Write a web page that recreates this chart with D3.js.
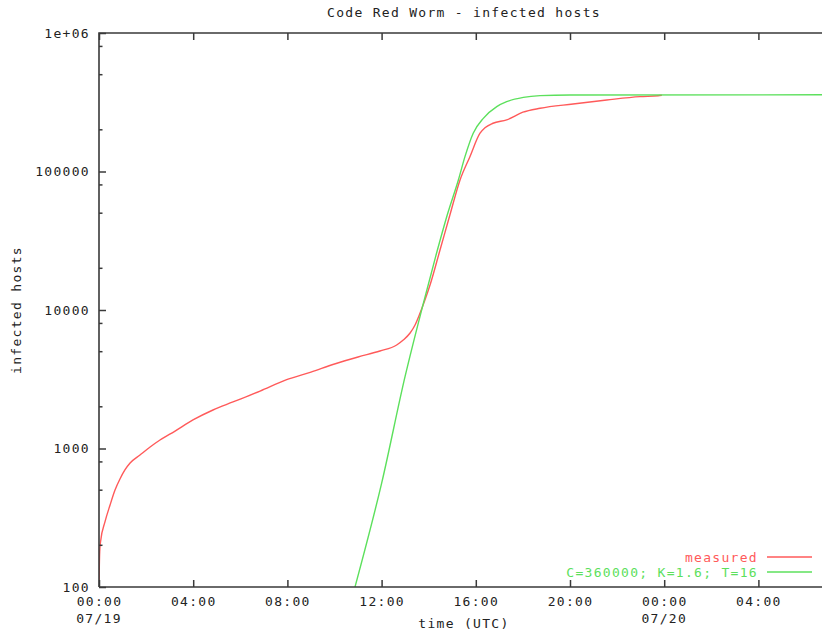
<!DOCTYPE html>
<html><head><meta charset="utf-8">
<script src="https://cdn.jsdelivr.net/npm/d3@7"></script>
<style>
body{margin:0;background:#fff}
text{font-family:"DejaVu Sans Mono",monospace;font-size:13px;letter-spacing:1.3px;fill:#222}
</style></head>
<body><svg id="c" width="822" height="632"></svg>
<script>
// ---- data (hours since 00:00 07/19 UTC, infected hosts) ----
const measuredHours = [0.00,0.01,0.03,0.07,0.25,0.47,0.68,0.89,1.10,1.32,1.74,2.17,2.59,3.23,3.99,4.84,5.69,6.84,7.94,9.0,10.0,11.0,11.93,12.64,12.92,13.21,13.42,13.63,13.84,14.06,14.48,14.9,15.33,15.75,16.18,16.39,16.73,17.31,18.0,18.73,20.13,21.56,22.97,23.74,23.9];
const measuredHosts = [100,130,180,215,294,391,501,602,700,785,897,1026,1152,1337,1607,1897,2168,2600,3126,3565,4074,4580,5060,5590,6070,6820,7790,9470,11800,15200,27100,48500,86900,128000,189000,207000,223000,236000,268000,286000,307000,328000,347000,352000,355000];
const modelHours = [10.87,12.0,13.0,13.7,14.3,14.8,15.26,15.54,15.89,16.32,16.89,17.31,18.02,18.73,20.0,32.0];
const modelHosts = [100,560,3330,10000,24500,49300,86900,128000,189000,242000,294000,319000,343000,353000,357000,358000];

const xTickHours = [0,4,8,12,16,20,24,28];
const xTickLabels = ["00:00","04:00","08:00","12:00","16:00","20:00","00:00","04:00"];
const dateTickHours = [0,24];
const dateTickLabels = ["07/19","07/20"];
const yTickValues = [100,1000,10000,100000,1000000];
const yTickLabels = ["100","1000","10000","100000","1e+06"];
const yMinorMultipliers = [2,5,8];
const seriesNames = ["measured","C=360000; K=1.6; T=16"];
const seriesColors = ["#ff5a5a","#5ce05c"];

// ---- layout ----
const svg = d3.select("#c");
const L = 99, T = 33, B = 587;
const x = d3.scaleLinear().domain([0,32]).range([L, L + 32*23.55]);
const y = d3.scaleLog().domain([100,1e6]).range([B, T]);
const axisColor = "#3a3a3a";

svg.append("rect").attr("width",822).attr("height",632).attr("fill","#fff");

svg.append("clipPath").attr("id","clip").append("rect")
  .attr("x",L).attr("y",T).attr("width",900).attr("height",B-T);

const line = d3.line().x(d=>x(d[0])).y(d=>y(d[1])).curve(d3.curveMonotoneX);
const measured = measuredHours.map((h,i)=>[h,measuredHosts[i]]);
const model = modelHours.map((h,i)=>[h,modelHosts[i]]);
const g = svg.append("g").attr("clip-path","url(#clip)");
g.append("path").datum(measured).attr("d",line).attr("fill","none")
  .attr("stroke",seriesColors[0]).attr("stroke-width",1.4);
g.append("path").datum(model).attr("d",line).attr("fill","none")
  .attr("stroke",seriesColors[1]).attr("stroke-width",1.4);

const xb = d3.axisBottom(x).tickValues(xTickHours).tickSize(-7).tickPadding(10)
  .tickFormat((d,i)=>xTickLabels[i]);
const gx = svg.append("g").attr("transform",`translate(0,${B})`).call(xb);
gx.select(".domain").remove();
gx.selectAll("line").attr("stroke",axisColor).attr("stroke-width",1.5);
gx.selectAll("text").attr("fill","#222").attr("font-size",null).attr("font-family",null);

const xt = d3.axisTop(x).tickValues(xTickHours).tickSize(-7).tickFormat("");
const gxt = svg.append("g").attr("transform",`translate(0,${T})`).call(xt);
gxt.select(".domain").remove();
gxt.selectAll("line").attr("stroke",axisColor).attr("stroke-width",1.5);

svg.append("g").selectAll("text").data(dateTickHours).join("text")
  .attr("x",d=>x(d)).attr("y",623).attr("text-anchor","middle")
  .text((d,i)=>dateTickLabels[i]);

const yl = d3.axisLeft(y).tickValues(yTickValues).tickSize(-7).tickPadding(9)
  .tickFormat((d,i)=>yTickLabels[i]);
const gy = svg.append("g").attr("transform",`translate(${L},0)`).call(yl);
gy.select(".domain").remove();
gy.selectAll("line").attr("stroke",axisColor).attr("stroke-width",1.5);
gy.selectAll("text").attr("fill","#222").attr("font-size",null).attr("font-family",null);

const minor = [];
for (let k=2;k<6;k++) yMinorMultipliers.forEach(m=>minor.push(m*Math.pow(10,k)));
svg.append("g").selectAll("line").data(minor).join("line")
  .attr("x1",L).attr("x2",L+3.5).attr("y1",d=>y(d)).attr("y2",d=>y(d))
  .attr("stroke",axisColor).attr("stroke-width",1.5);

svg.append("path").attr("d",`M${L},${B}H822M${L},${B}V${T}H822`)
  .attr("fill","none").attr("stroke",axisColor).attr("stroke-width",1.6);

svg.append("text").attr("x",464).attr("y",17).attr("text-anchor","middle")
  .text("Code Red Worm - infected hosts");
svg.append("text").attr("x",464).attr("y",628).attr("text-anchor","middle")
  .text("time (UTC)");
svg.append("text").attr("transform","translate(21,310) rotate(-90)")
  .attr("text-anchor","middle").text("infected hosts");

const lg = svg.append("g").selectAll("g").data(seriesNames).join("g")
  .attr("transform",(d,i)=>`translate(0,${557+i*15})`);
lg.append("text").attr("x",758).attr("y",5).attr("text-anchor","end")
  .style("fill",(d,i)=>seriesColors[i]).text(d=>d);
lg.append("line").attr("x1",767).attr("x2",812).attr("y1",0).attr("y2",0)
  .attr("stroke",(d,i)=>seriesColors[i]).attr("stroke-width",1.4);
</script></body></html>
